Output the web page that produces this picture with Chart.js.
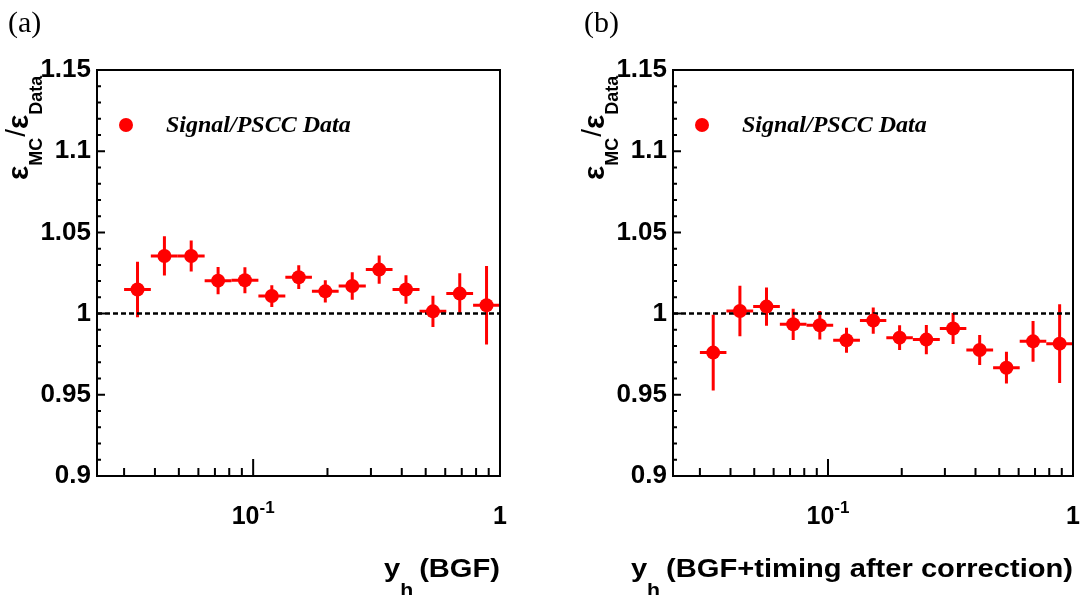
<!DOCTYPE html>
<html>
<head>
<meta charset="utf-8">
<script src="https://cdn.jsdelivr.net/npm/chart.js@4.4.1/dist/chart.umd.min.js"></script>
<style>
  body { margin: 0; background: #fff; }
  .pane { position: absolute; top: 0; width: 542px; height: 595px; }
</style>
</head>
<body>
<div class="pane" style="left:0"><canvas id="panelA" width="542" height="595"></canvas></div>
<div class="pane" style="left:542px"><canvas id="panelB" width="542" height="595"></canvas></div>
<script>
// x range of both pads (log scale)
const xMin = 0.0233, xMax = 1;

// y_h bins: centres and edges
const binCenter = [0.0340, 0.0437, 0.0561, 0.0721, 0.0926, 0.119, 0.153, 0.196, 0.252, 0.324, 0.416, 0.535, 0.687, 0.882];
const binLo     = [0.0300, 0.0385, 0.0495, 0.0636, 0.0817, 0.105, 0.135, 0.173, 0.222, 0.286, 0.367, 0.472, 0.606, 0.778];
const binHi     = [0.0385, 0.0495, 0.0636, 0.0817, 0.105, 0.135, 0.173, 0.222, 0.286, 0.367, 0.472, 0.606, 0.778, 1.0];

// (a) BGF
const ratioBGF = [1.0148, 1.0355, 1.0355, 1.0203, 1.0205, 1.0108, 1.0224, 1.0137, 1.0170, 1.0271, 1.0148, 1.0014, 1.0123, 1.0051];
const errBGF   = [0.0171, 0.0121, 0.0095, 0.0084, 0.0080, 0.0067, 0.0073, 0.0068, 0.0084, 0.0087, 0.0088, 0.0096, 0.0126, 0.0242];

// (b) BGF+timing after correction
const ratioTiming = [0.9760, 1.0016, 1.0043, 0.9934, 0.9928, 0.9836, 0.9957, 0.9852, 0.9840, 0.9908, 0.9776, 0.9667, 0.9829, 0.9815];
const errTiming   = [0.0233, 0.0156, 0.0118, 0.0096, 0.0088, 0.0077, 0.0081, 0.0076, 0.0090, 0.0095, 0.0092, 0.0098, 0.0126, 0.0243];

// reference line at ratio = 1
const unityLine = [1, 1];

// axis ticks
const yTicks = [0.9, 0.95, 1, 1.05, 1.1, 1.15];
const xMajorTicks = [0.1, 1];
const xMinorTicks = [0.03, 0.04, 0.05, 0.06, 0.07, 0.08, 0.09, 0.2, 0.3, 0.4, 0.5, 0.6, 0.7, 0.8, 0.9];

const RED = '#ff0000';
const SANS = '"Liberation Sans", Arial, sans-serif';
const SERIF = '"Liberation Serif", "Times New Roman", serif';
const bold = s => 'bold ' + s + 'px ' + SANS;

// draw a run of text pieces (sub/superscripts), sx stretches horizontally like the ROOT output
function drawParts(ctx, parts, x, y, align, sx = 1) {
    let total = 0;
    parts.forEach(p => {
        ctx.font = p.font;
        p.w = ctx.measureText(p.text).width * sx;
        total += p.w + (p.gap || 0);
    });
    let cx = align === 'right' ? x - total : align === 'center' ? x - total / 2 : x;
    ctx.textAlign = 'left';
    ctx.textBaseline = 'alphabetic';
    parts.forEach(p => {
        cx += (p.gap || 0);
        ctx.font = p.font;
        ctx.save();
        ctx.translate(cx, y + (p.dy || 0));
        ctx.scale(sx, 1);
        ctx.fillText(p.text, 0, 0);
        ctx.restore();
        cx += p.w;
    });
}

const rootFrame = {
    id: 'rootFrame',
    beforeDatasetsDraw(chart, args, opts) {
        const { ctx, scales: { x, y } } = chart;
        ctx.save();
        ctx.strokeStyle = RED;
        ctx.lineWidth = 3;
        opts.values.forEach((v, i) => {
            const px = x.getPixelForValue(binCenter[i]);
            const py = y.getPixelForValue(v);
            ctx.beginPath();
            ctx.moveTo(x.getPixelForValue(binLo[i]), py);
            ctx.lineTo(x.getPixelForValue(binHi[i]), py);
            ctx.moveTo(px, y.getPixelForValue(v - opts.errors[i]));
            ctx.lineTo(px, y.getPixelForValue(v + opts.errors[i]));
            ctx.stroke();
        });
        ctx.restore();
    },
    afterDraw(chart, args, opts) {
        const { ctx, chartArea: a, scales: { x, y } } = chart;
        ctx.save();
        ctx.strokeStyle = '#000';
        ctx.fillStyle = '#000';
        ctx.lineWidth = 2;
        ctx.strokeRect(a.left, a.top, a.right - a.left, a.bottom - a.top);

        // y ticks, inside the frame: 0.01 steps, longer every 0.05
        ctx.beginPath();
        for (let k = 0; k <= 25; k++) {
            const py = y.getPixelForValue(0.9 + k * 0.01);
            ctx.moveTo(a.left, py);
            ctx.lineTo(a.left + (k % 5 === 0 ? 8 : 4), py);
        }
        // x ticks
        xMinorTicks.forEach(v => {
            const px = x.getPixelForValue(v);
            ctx.moveTo(px, a.bottom);
            ctx.lineTo(px, a.bottom - 8);
        });
        xMajorTicks.forEach(v => {
            const px = x.getPixelForValue(v);
            ctx.moveTo(px, a.bottom);
            ctx.lineTo(px, a.bottom - 17);
        });
        ctx.stroke();

        // x tick labels
        drawParts(ctx, [{ text: '10', font: bold(25) }, { text: '-1', font: bold(17), dy: -11 }],
            x.getPixelForValue(0.1), 524, 'center');
        drawParts(ctx, [{ text: '1', font: bold(25) }], x.getPixelForValue(1), 524, 'center');

        // x title
        drawParts(ctx, [
            { text: 'y', font: bold(26) },
            { text: 'h', font: bold(19), dy: 19 },
            { text: opts.xTitle, font: bold(26), gap: 6 }
        ], a.right, 577, 'right', 1.12);

        // y title, rotated
        ctx.save();
        ctx.translate(a.left - 69, 180);
        ctx.rotate(-Math.PI / 2);
        drawParts(ctx, [
            { text: 'ε', font: bold(30) },
            { text: 'MC', font: bold(18), dy: 14 },
            { text: '/', font: '28px ' + SANS, dy: -3, gap: 1 },
            { text: 'ε', font: bold(30) },
            { text: 'Data', font: bold(18), dy: 14 }
        ], 0, 0, 'left');
        ctx.restore();

        // pad label
        ctx.font = '30px ' + SERIF;
        ctx.textAlign = 'left';
        ctx.fillText(opts.label, a.left - 89, 32);

        // legend
        ctx.fillStyle = RED;
        ctx.beginPath();
        ctx.arc(a.left + 29, 125, 7, 0, Math.PI * 2);
        ctx.fill();
        ctx.fillStyle = '#000';
        ctx.font = 'italic bold 24px ' + SERIF;
        ctx.fillText('Signal/PSCC Data', a.left + 69, 132);
        ctx.restore();
    }
};

function makePanel(id, values, errors, axisWidth, rightPad, label, xTitle) {
    const ctx = document.getElementById(id).getContext('2d');
    return new Chart(ctx, {
        data: {
            datasets: [
                {
                    type: 'line',
                    data: [{ x: xMin, y: unityLine[0] }, { x: xMax, y: unityLine[1] }],
                    borderColor: '#000',
                    borderWidth: 2.5,
                    borderDash: [5, 3],
                    pointRadius: 0,
                    order: 2
                },
                {
                    type: 'scatter',
                    data: binCenter.map((c, i) => ({ x: c, y: values[i] })),
                    pointRadius: 7,
                    pointHoverRadius: 7,
                    backgroundColor: RED,
                    borderWidth: 0,
                    order: 1
                }
            ]
        },
        options: {
            responsive: false,
            animation: false,
            devicePixelRatio: 1,
            events: [],
            layout: { padding: { left: 0, top: 70, right: rightPad, bottom: 119 } },
            plugins: {
                legend: { display: false },
                tooltip: { enabled: false },
                rootFrame: { values, errors, label, xTitle }
            },
            scales: {
                x: { type: 'logarithmic', min: xMin, max: xMax, display: false },
                y: {
                    min: 0.9, max: 1.15,
                    afterBuildTicks: s => { s.ticks = yTicks.map(v => ({ value: v })); },
                    afterFit: s => { s.width = axisWidth; },
                    grid: { display: false, drawTicks: false },
                    border: { display: false },
                    ticks: {
                        padding: 6,
                        color: '#000',
                        font: { family: SANS, weight: 'bold', size: 26 },
                        callback: v => String(+v.toFixed(2))
                    }
                }
            }
        },
        plugins: [rootFrame]
    });
}

makePanel('panelA', ratioBGF, errBGF, 97, 42, '(a)', '(BGF)');
makePanel('panelB', ratioTiming, errTiming, 131, 11, '(b)', '(BGF+timing after correction)');
</script>
</body>
</html>
